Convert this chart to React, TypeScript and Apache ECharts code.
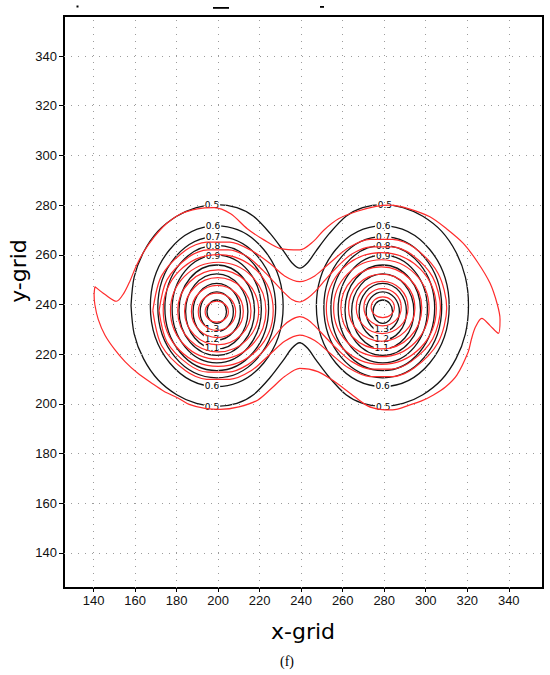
import React, { useEffect, useRef } from "react";
import * as echarts from "echarts";

// ---- axis ticks ----
const xTicks = [140, 160, 180, 200, 220, 240, 260, 280, 300, 320, 340];
const yTicks = [140, 160, 180, 200, 220, 240, 260, 280, 300, 320, 340];

// ---- black contours: closed rings [cx, cy, rx, ry] (levels 0.6 .. 1.4) ----
const blackRingsLeft = [
  [199.3, 239.3, 32.0, 32.3],
  [199.3, 238.9, 28.4, 28.4],
  [199.3, 238.6, 25.0, 25.2],
  [199.3, 238.2, 21.5, 21.7],
  [199.3, 237.7, 18.2, 18.2],
  [199.3, 237.2, 15.0, 15.1],
  [199.3, 237.1, 11.4, 11.4],
  [199.3, 237.1, 8.0, 8.0],
  [199.3, 237.1, 4.7, 4.7],
];
const blackRingsRight = [
  [279.3, 239.3, 32.0, 32.3],
  [279.3, 238.9, 28.4, 28.4],
  [279.3, 238.6, 25.0, 25.2],
  [279.3, 238.2, 21.5, 21.7],
  [279.3, 237.7, 18.2, 18.2],
  [279.3, 237.2, 15.0, 15.1],
  [279.3, 237.1, 11.4, 11.4],
  [279.3, 237.1, 8.0, 8.0],
  [279.3, 237.1, 4.7, 4.7],
];

// black 0.5 contour enclosing both vortices
const black05 = [
  [158.0, 239.6], [159.5, 251.0], [164.0, 261.0], [171.0, 269.5], [180.0, 275.5],
  [189.5, 279.0], [199.3, 280.2], [209.0, 279.0], [217.0, 275.5], [225.0, 268.6],
  [231.5, 261.5], [235.5, 256.8], [239.3, 254.6], [243.1, 256.8], [247.1, 261.5],
  [253.6, 268.6], [261.6, 275.5], [269.6, 279.0], [279.3, 280.2], [289.1, 279.0],
  [298.6, 275.5], [307.6, 269.5], [314.6, 261.0], [319.1, 251.0], [320.6, 239.6],
  [319.1, 228.2], [314.6, 218.2], [307.6, 209.7], [298.6, 203.7], [289.1, 200.2],
  [279.3, 199.0], [269.6, 200.2], [261.6, 203.7], [253.6, 210.6], [247.1, 217.7],
  [243.1, 222.4], [239.3, 224.6], [235.5, 222.4], [231.5, 217.7], [225.0, 210.6],
  [217.0, 203.7], [209.0, 200.2], [199.3, 199.0], [189.5, 200.2], [180.0, 203.7],
  [171.0, 209.7], [164.0, 218.2], [159.5, 228.2], [158.0, 239.6],
];

// ---- red contours ----
const redRingsLeft = [
  [200.0, 237.6, 26.5, 22.5],
  [200.0, 237.5, 23.0, 19.5],
  [200.0, 237.4, 19.5, 16.5],
  [199.8, 237.3, 16.0, 13.5],
  [199.6, 237.2, 12.5, 10.5],
  [199.4, 237.1, 9.0, 7.5],
  [199.3, 237.1, 5.6, 4.2],
];
const redRingsRight = [
  [278.6, 238.4, 26.5, 22.5],
  [278.6, 238.5, 23.0, 19.5],
  [278.6, 238.6, 19.5, 16.5],
  [278.8, 238.7, 16.0, 13.5],
  [279.0, 238.8, 12.5, 10.5],
  [279.2, 238.9, 9.0, 7.5],
  [279.3, 238.9, 5.6, 4.2],
];

// outermost red contour with the two hooked tails
const red05 = [
  [140.6, 247.2], [145.5, 244.0], [151.0, 241.3], [154.5, 244.5], [157.5, 249.5],
  [160.5, 255.5], [164.0, 261.0], [169.0, 267.0], [175.0, 272.5], [182.0, 276.5],
  [190.0, 278.5], [198.0, 279.0], [206.0, 276.5], [214.0, 270.5], [222.0, 266.0],
  [230.0, 262.5], [239.4, 262.0], [246.0, 265.5], [251.0, 270.0], [258.0, 274.5],
  [267.0, 277.5], [276.0, 279.5], [283.0, 280.0], [292.0, 278.5], [302.0, 275.3],
  [310.0, 270.5], [318.1, 264.6], [325.0, 257.0], [331.0, 248.5], [334.5, 240.0],
  [335.8, 234.0], [335.0, 228.4], [331.0, 231.5], [327.0, 234.4], [324.0, 231.0],
  [322.0, 226.0], [320.5, 221.0], [315.0, 211.6], [309.5, 206.8], [303.7, 203.6],
  [298.0, 201.2], [292.4, 199.6], [284.0, 197.6], [278.0, 197.8], [272.0, 199.2],
  [264.0, 204.0], [256.0, 209.0], [248.0, 213.0], [239.3, 214.3], [232.0, 211.0],
  [226.0, 206.5], [219.0, 201.5], [210.0, 198.8], [201.0, 197.8], [193.6, 198.2],
  [186.0, 199.8], [180.8, 202.3], [174.0, 205.0], [168.0, 208.3], [161.0, 212.5],
  [155.1, 217.0], [150.0, 222.0], [145.4, 227.7], [142.2, 234.0], [140.6, 239.8],
  [140.2, 244.0], [140.6, 247.2],
];

const red06 = [
  [168.5, 237.5], [172.7, 251.5], [184.3, 261.8], [194.5, 265.1], [205.5, 265.1],
  [215.8, 261.8], [225.0, 256.5], [232.0, 251.5], [239.3, 249.2], [246.5, 251.5],
  [253.5, 256.5], [262.9, 262.9], [273.1, 266.2], [284.1, 266.2], [294.4, 262.9],
  [305.9, 252.6], [310.1, 238.6], [305.9, 224.6], [294.4, 214.4], [284.1, 211.0],
  [273.1, 211.0], [262.9, 214.4], [253.5, 220.7], [246.5, 225.5], [239.3, 227.7],
  [232.0, 225.2], [225.0, 220.0], [215.8, 213.3], [205.5, 209.9], [194.5, 209.9],
  [184.3, 213.3], [172.7, 223.5], [168.5, 237.5],
];

const red07 = [
  [171.5, 237.4], [175.3, 249.9], [185.8, 259.1], [195.1, 262.0], [205.0, 262.0],
  [214.3, 259.1], [221.8, 253.5], [227.0, 249.0], [231.5, 245.0], [235.5, 242.0],
  [239.3, 241.0], [243.0, 242.5], [247.0, 245.5], [251.5, 249.8], [256.8, 254.7],
  [264.4, 260.3], [273.7, 263.2], [283.6, 263.2], [292.9, 260.3], [303.3, 251.1],
  [307.1, 238.6], [303.3, 226.1], [292.9, 217.0], [283.6, 214.0], [273.7, 214.0],
  [264.4, 217.0], [256.8, 222.5], [251.5, 227.0], [247.0, 231.0], [243.0, 234.0],
  [239.3, 235.1], [235.5, 234.0], [231.5, 231.5], [227.0, 227.0], [221.8, 221.3],
  [214.3, 215.8], [205.0, 212.8], [195.1, 212.8], [185.8, 215.8], [175.3, 224.9],
  [171.5, 237.4],
];

// ---- contour labels (black field) ----
const labelPos = [
  [197.0, 280.0], [197.5, 271.4], [197.5, 267.3], [197.5, 263.4], [197.5, 259.5],
  [197.0, 222.4], [197.0, 226.2], [197.0, 230.0], [197.0, 207.3], [197.0, 198.7],
  [280.3, 280.0], [279.5, 271.4], [279.5, 267.3], [279.5, 263.4], [279.5, 259.5],
  [278.8, 222.4], [278.8, 226.2], [278.8, 230.0], [279.2, 207.3], [279.5, 198.7],
];
const labelText = [
  "0.5", "0.6", "0.7", "0.8", "0.9", "1.1", "1.2", "1.3", "0.6", "0.5",
  "0.5", "0.6", "0.7", "0.8", "0.9", "1.1", "1.2", "1.3", "0.6", "0.5",
];

const BLACK = "#141414";
const RED = "#ff2b2b";

function ringSeries(data: number[][], color: string, width: number, z: number) {
  return {
    type: "custom",
    data,
    z,
    silent: true,
    clip: true,
    dimensions: ["x", "y", "rx", "ry"],
    encode: { x: 0, y: 1 },
    renderItem: (_params: any, api: any) => {
      const c = api.coord([api.value(0), api.value(1)]);
      const s = api.size([api.value(2), api.value(3)]);
      return {
        type: "ellipse",
        shape: { cx: c[0], cy: c[1], rx: s[0], ry: s[1] },
        style: { fill: "none", stroke: color, lineWidth: width },
      };
    },
  };
}

function lineSeries(data: number[][], color: string, width: number, z: number) {
  return {
    type: "line",
    data,
    z,
    silent: true,
    symbol: "none",
    showSymbol: false,
    smooth: 0.3,
    lineStyle: { color, width },
  };
}

export default function App() {
  const ref = useRef<HTMLDivElement>(null);

  useEffect(() => {
    document.body.style.margin = "0";
    if (!ref.current) return;
    const chart = echarts.init(ref.current, undefined, { renderer: "svg" });
    const tickFont = "Liberation Sans";
    const option: any = {
      animation: false,
      backgroundColor: "#ffffff",
      grid: {
        left: 64,
        top: 16,
        width: 479,
        height: 572,
        show: true,
        borderColor: "#000",
        borderWidth: 2,
        backgroundColor: "transparent",
      },
      xAxis: {
        type: "value",
        min: 125.7,
        max: 356.5,
        axisLine: { show: true, lineStyle: { color: "#000", width: 2 } },
        axisTick: { show: true, customValues: xTicks, length: 4, lineStyle: { color: "#000", width: 1 } },
        axisLabel: {
          customValues: xTicks,
          color: "#111",
          fontSize: 13,
          fontFamily: tickFont,
          margin: 6,
        },
        splitLine: { show: false },
      },
      yAxis: {
        type: "value",
        min: 125.9,
        max: 356.1,
        axisLine: { show: true, lineStyle: { color: "#000", width: 2 } },
        axisTick: { show: true, customValues: yTicks, length: 5, lineStyle: { color: "#000", width: 1 } },
        axisLabel: {
          customValues: yTicks,
          color: "#111",
          fontSize: 13,
          fontFamily: tickFont,
          margin: 7,
        },
        splitLine: { show: false },
      },
      graphic: {
        elements: [
          { type: "rect", shape: { x: 76.5, y: 5.5, width: 2, height: 2 }, style: { fill: "#000" } },
          { type: "rect", shape: { x: 213, y: 7, width: 16, height: 1.8 }, style: { fill: "#000" } },
          { type: "rect", shape: { x: 320, y: 6, width: 4, height: 1.8 }, style: { fill: "#000" } },
          {
            type: "text",
            x: 303,
            y: 631,
            style: {
              text: "x-grid",
              font: '22px "DejaVu Sans"',
              fill: "#000",
              align: "center",
              verticalAlign: "middle",
            },
          },
          {
            type: "text",
            x: 18,
            y: 271,
            rotation: Math.PI / 2,
            style: {
              text: "y-grid",
              font: '22px "DejaVu Sans"',
              fill: "#000",
              align: "center",
              verticalAlign: "middle",
            },
          },
          {
            type: "text",
            x: 287,
            y: 661,
            style: {
              text: "(f)",
              font: '14px "Liberation Serif"',
              fill: "#000",
              align: "center",
              verticalAlign: "middle",
            },
          },
        ],
      },
      series: [
        {
          type: "line",
          data: [],
          z: 1,
          silent: true,
          markLine: {
            silent: true,
            symbol: ["none", "none"],
            label: { show: false },
            animation: false,
            lineStyle: { color: "#9c9c9c", type: [1, 6], width: 1 },
            data: [
              ...xTicks.map((v) => ({ xAxis: v })),
              ...yTicks.map((v) => ({ yAxis: v })),
            ],
          },
        },
        ringSeries(blackRingsLeft, BLACK, 1.3, 3),
        ringSeries(blackRingsRight, BLACK, 1.3, 3),
        lineSeries(black05, BLACK, 1.3, 3),
        {
          type: "custom",
          data: labelPos,
          z: 4,
          silent: true,
          dimensions: ["x", "y"],
          encode: { x: 0, y: 1 },
          renderItem: (params: any, api: any) => {
            const c = api.coord([api.value(0), api.value(1)]);
            return {
              type: "text",
              x: c[0],
              y: c[1],
              style: {
                text: labelText[params.dataIndex],
                font: '9px "DejaVu Sans"',
                fill: "#000",
                align: "center",
                verticalAlign: "middle",
                backgroundColor: "#fff",
                padding: [0, 1],
                lineHeight: 8,
              },
            };
          },
        },
        ringSeries(redRingsLeft, RED, 1.2, 5),
        ringSeries(redRingsRight, RED, 1.2, 5),
        lineSeries(red07, RED, 1.2, 5),
        lineSeries(red06, RED, 1.2, 5),
        lineSeries(red05, RED, 1.2, 5),
      ],
    };
    chart.setOption(option);
    return () => chart.dispose();
  }, []);

  return <div ref={ref} style={{ width: 550, height: 675 }} />;
}
